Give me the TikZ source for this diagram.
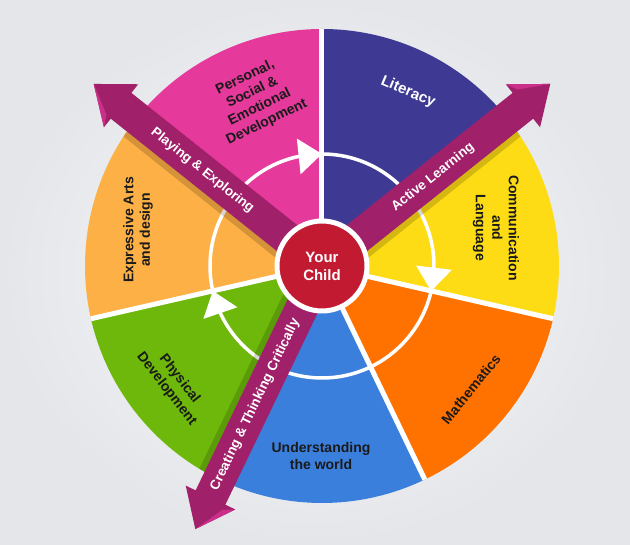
\documentclass[tikz,border=0pt]{standalone}
\usepackage{fontspec}
\setmainfont{Liberation Sans}
\usetikzlibrary{calc}
\definecolor{bgin}{HTML}{F8F9FA}
\definecolor{bgout}{HTML}{E4E6EA}
\definecolor{cper}{HTML}{E5399B}
\definecolor{clit}{HTML}{3E3A94}
\definecolor{ccom}{HTML}{FDDC15}
\definecolor{cmat}{HTML}{FF7200}
\definecolor{cund}{HTML}{3B7FDD}
\definecolor{cphy}{HTML}{6DB80A}
\definecolor{cexp}{HTML}{FDB045}
\definecolor{cband}{HTML}{A0206A}
\definecolor{cbandhi}{HTML}{CC2F8A}
\definecolor{cchild}{HTML}{C21A31}
\definecolor{ctxt}{HTML}{1A1A1A}
\tikzset{
  segtext/.style={font=\bfseries\fontsize{14}{16.5}\selectfont, text=ctxt, align=center, inner sep=0pt},
  bandtext/.style={font=\bfseries\fontsize{13.5}{16}\selectfont, text=white, inner sep=0pt},
  gap/.style={white, line width=5pt},
  ringline/.style={white, line width=3.5pt},
  bandbody/.style={fill=cband},
  bandhl/.style={fill=cbandhi},
  bandshadow/.style={fill=black, opacity=0.16},
}
\begin{document}
\begin{tikzpicture}
\useasboundingbox (-322pt,-279pt) rectangle (308pt,266pt);
\shade[inner color=bgin, outer color=bgout] (-322pt,-279pt) rectangle (308pt,266pt);

% wheel segments
\foreach \c [count=\i from 0] in {clit,ccom,cmat,cund,cphy,cexp,cper} {
  \pgfmathsetmacro\sa{38.5714-51.4286*\i}
  \pgfmathsetmacro\ea{\sa+51.4286}
  \fill[\c] (0,0) -- (\sa:237pt) arc[start angle=\sa, end angle=\ea, radius=237pt] -- cycle;
}
% white gaps
\foreach \i in {0,...,6} {
  \draw[gap] (0,0) -- ({90-51.4286*\i}:237pt);
}
% cycle ring
\draw[ringline] (0,0) circle[radius=112pt];
\foreach \t [count=\k] in {90,-12.857,-167.143} {
  \coordinate (T\k) at (\t:112pt);
  \coordinate (B\k) at (\t+12:112pt);
  \fill[white] (T\k) -- ($(B\k)!18pt!90:(T\k)$) -- ($(B\k)!18pt!-90:(T\k)$) -- cycle;
}

% bands
\foreach \ang/\sd in {141.4286/1, 38.5714/-1, 244.2857/-1} {
  \begin{scope}
    \clip (0,0) circle[radius=237pt];
    \fill[bandshadow, rotate=\ang] (0,\sd*16.5pt) rectangle (257pt,\sd*22.5pt);
  \end{scope}
  \begin{scope}[rotate=\ang]
    \fill[bandbody] (0,-16.5pt) -- (257pt,-16.5pt) -- (257pt,-27.5pt) -- (292pt,0pt)
      -- (257pt,27.5pt) -- (257pt,16.5pt) -- (0,16.5pt) -- cycle;
    \fill[bandhl] (257pt,27.5pt) -- (292pt,0pt) -- (263pt,16pt) -- cycle;
  \end{scope}
}

% centre
\node[circle, fill=cchild, draw=white, line width=5pt, minimum size=90pt, inner sep=0pt,
      text=white, font=\bfseries\fontsize{15}{18}\selectfont, align=center] (child) at (0,0) {Your\\Child};

% segment labels
\node[segtext, rotate=26] (per) at (-66pt,166pt) {Personal,\\Social \&\\Emotional\\Development};
\node[segtext, rotate=-23, text=white, font=\bfseries\fontsize{15}{17}\selectfont] (lit) at (86pt,174pt) {Literacy};
\node[segtext, rotate=-90] (com) at (174pt,38pt) {Communication\\and\\Language};
\node[segtext, rotate=51] (mat) at (149pt,-123pt) {Mathematics};
\node[segtext] (und) at (-1pt,-190pt) {Understanding\\the world};
\node[segtext, rotate=-52] (phy) at (-149pt,-118pt) {Physical\\Development};
\node[segtext, rotate=90] (exp) at (-184pt,36pt) {Expressive Arts\\and design};

% band labels
\node[bandtext, rotate=-38.5714] (play) at (141.4286:153pt) {Playing \& Exploring};
\node[bandtext, rotate=38.5714] (act) at (38.5714:142pt) {Active Learning};
\node[bandtext, rotate=64.2857] (crea) at (244.2857:154pt) {Creating \& Thinking Critically};
\end{tikzpicture}
\end{document}
